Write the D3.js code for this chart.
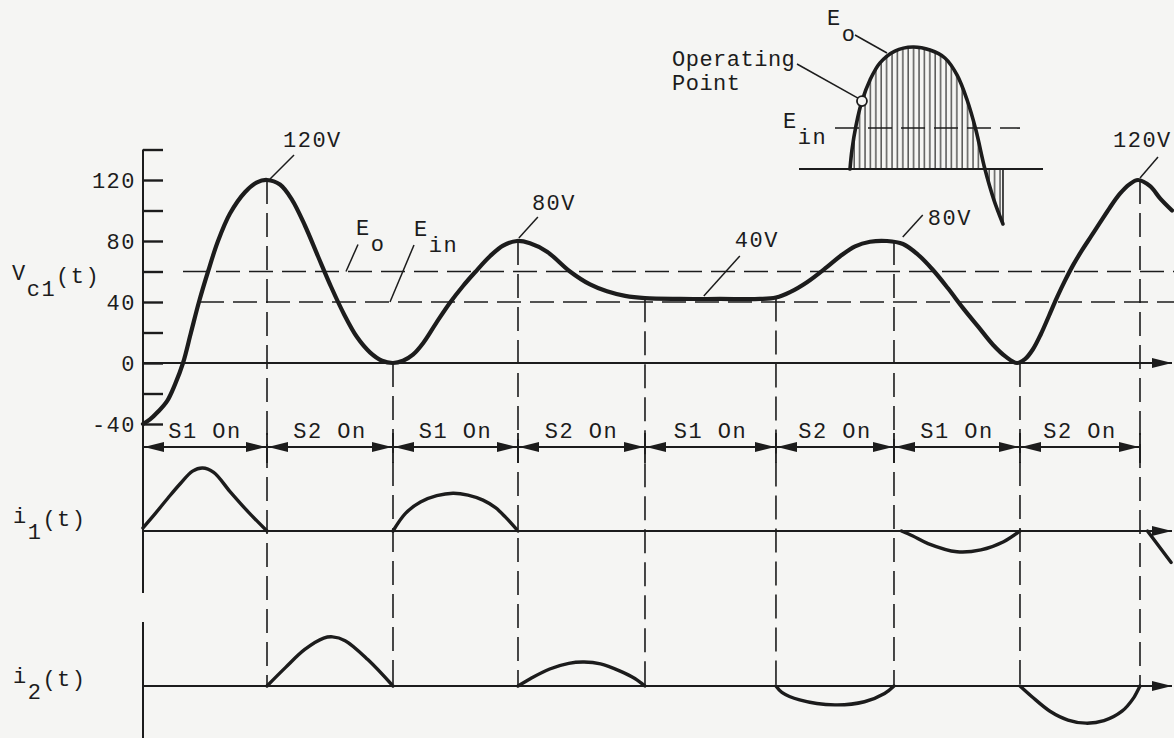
<!DOCTYPE html>
<html>
<head>
<meta charset="utf-8">
<title>Vc1, i1, i2 waveforms</title>
<style>
  body { margin: 0; background: #f5f5f3; }
  svg { display: block; }
  text { font-family: "Liberation Mono", monospace; font-size: 22px; letter-spacing: 1.5px; fill: #1c1c1c; }
</style>
</head>
<body>
<div class="plot_container"></div>
<script src="https://cdn.jsdelivr.net/npm/d3@7/dist/d3.min.js"></script>
<script>
var width = 1174;
var height = 738;
var ink = "#1c1c1c";

// switching intervals (time in interval units)
var boundaries = [0, 0.995, 2.006, 3.009, 4.028, 5.079, 6.026, 7.037, 8];
var switchLabels = ["S1 On", "S2 On", "S1 On", "S2 On", "S1 On", "S2 On", "S1 On", "S2 On"];
// Vc1 value where each dashed divider starts (dividers 1..8)
var dividerTop = [120, 0, 80, 42.5, 43, 80, 0, 120];

// Vc1(t), volts
var vcT = [0, 0.056, 0.12, 0.193, 0.257, 0.321, 0.385, 0.449, 0.522, 0.602, 0.698, 0.818, 0.915, 0.995,
           1.099, 1.196, 1.3, 1.404, 1.509, 1.613, 1.717, 1.821, 1.918, 2.006,
           2.086, 2.166, 2.247, 2.351, 2.463, 2.568, 2.664, 2.784, 2.889, 3.001,
           3.105, 3.242, 3.426, 3.587, 3.723, 3.868, 4.028, 4.309, 4.63, 4.951, 5.079,
           5.192, 5.328, 5.489, 5.594, 5.714, 5.834, 5.97,
           6.098, 6.219, 6.339, 6.459, 6.580, 6.700, 6.820, 6.925, 7.013,
           7.077, 7.141, 7.205, 7.270, 7.334, 7.398, 7.462, 7.535, 7.607, 7.679, 7.759, 7.839, 7.912, 7.984,
           8.081, 8.161, 8.257];
var vcV = [-40, -37, -32, -25, -14, 0, 20, 40, 60, 80, 98, 112, 118.5, 120,
           117, 107, 90, 70, 50, 32, 17, 7, 1.5, 0,
           1.5, 5.5, 13, 26, 39.5, 50.5, 59.5, 70, 77, 80,
           78.5, 73, 60, 51.5, 47, 44, 42.5, 42, 42, 42, 43,
           46.5, 53, 63, 70, 76.5, 79.5, 80,
           78, 71, 61, 49, 36, 24, 12, 4, 0,
           2.5, 9, 19, 31, 43, 54, 64, 74, 83, 92, 102, 111, 117, 120,
           116, 108, 100];

var yTicks = d3.range(-40, 141, 20);
var yLabels = [-40, 0, 40, 80, 120];
var refValues = [60, 40];          // Eo, Ein
var refNames = [["E", "o"], ["E", "in"]];

var peakText = ["120V", "80V", "40V", "80V", "120V"];
var peakT = [0.995, 3.0, 4.5, 6.0, 7.984];
var peakV = [120, 80, 42, 80, 120];

// i1(t), i2(t): interval index, position inside interval, relative current
var i1Seg = [0, 2, 6, 8];
var i1F = [[0, 0.1, 0.2, 0.3, 0.4, 0.48, 0.57, 0.7, 0.85, 1],
           [0, 0.1, 0.22, 0.35, 0.48, 0.6, 0.72, 0.82, 0.9, 1],
           [0.06, 0.15, 0.27, 0.5, 0.69, 0.87, 1],
           [0.06, 0.25]];
var i1V = [[0.05, 0.28, 0.52, 0.75, 0.95, 1.0, 0.93, 0.63, 0.3, 0],
           [0, 0.28, 0.46, 0.56, 0.6, 0.57, 0.49, 0.37, 0.22, 0],
           [0, -0.08, -0.2, -0.33, -0.3, -0.17, 0],
           [0, -0.5]];
var i2Seg = [1, 3, 5, 7];
var i2F = [[0, 0.15, 0.3, 0.45, 0.52, 0.62, 0.8, 1],
           [0, 0.1, 0.25, 0.4, 0.52, 0.65, 0.8, 0.92, 1],
           [0, 0.05, 0.2, 0.5, 0.75, 0.92, 1],
           [0, 0.1, 0.25, 0.4, 0.55, 0.7, 0.85, 0.95, 1]];
var i2V = [[0, 0.3, 0.58, 0.76, 0.78, 0.72, 0.42, 0],
           [0, 0.12, 0.27, 0.36, 0.38, 0.35, 0.24, 0.12, 0],
           [0, -0.1, -0.22, -0.3, -0.25, -0.12, 0],
           [0, -0.17, -0.4, -0.54, -0.59, -0.55, -0.4, -0.18, 0]];

// inset: operating point sketch
var insetX = [20.9, 21.7, 23.4, 25.8, 29.1, 33.2, 39.3, 46.7, 53.7, 59.8, 64.8, 68.9, 72.5, 76.2, 79.9, 83.6];
var insetV = [0, 0.156, 0.36, 0.557, 0.73, 0.87, 0.967, 1.0, 0.975, 0.91, 0.77, 0.566, 0.32, 0, -0.254, -0.45];
var insetEin = 0.336;
var insetOp = 3;

var svg = d3.select(".plot_container").append("svg")
        .attr("width", width)
        .attr("height", height);

var defs = svg.append("defs");
defs.append("marker")
    .attr("id", "arrow")
    .attr("viewBox", "0 -6 20 12")
    .attr("refX", 20).attr("refY", 0)
    .attr("markerWidth", 20).attr("markerHeight", 12)
    .attr("markerUnits", "userSpaceOnUse")
    .attr("orient", "auto-start-reverse")
    .append("path").attr("d", "M0,-5L20,0L0,5Z").attr("fill", ink);
var pat = defs.append("pattern")
    .attr("id", "hatch")
    .attr("patternUnits", "userSpaceOnUse")
    .attr("width", 5.4).attr("height", 10);
pat.append("line").attr("x1", 1).attr("x2", 1).attr("y1", 0).attr("y2", 10)
    .attr("stroke", ink).attr("stroke-width", 1.1);

var x = d3.scaleLinear().domain([0, 8]).range([143, 1140]);
var y = d3.scaleLinear().domain([-40, 140]).range([424, 149.5]);
var yi1 = d3.scaleLinear().domain([-1, 1]).range([594, 468]);
var yi2 = d3.scaleLinear().domain([-1, 1]).range([749, 623]);

var xEnd = 1172;
var dash = "24,9";

function hline(yy, x1, x2, w, d, arrow) {
    var l = svg.append("line")
        .attr("x1", x1).attr("x2", x2).attr("y1", yy).attr("y2", yy)
        .attr("stroke", ink).attr("stroke-width", w);
    if (d) l.attr("stroke-dasharray", d);
    if (arrow) l.attr("marker-end", "url(#arrow)");
    return l;
}
function vline(xx, y1, y2, w, d) {
    var l = svg.append("line")
        .attr("x1", xx).attr("x2", xx).attr("y1", y1).attr("y2", y2)
        .attr("stroke", ink).attr("stroke-width", w);
    if (d) l.attr("stroke-dasharray", d);
    return l;
}
function subLabel(xx, yy, main, sub, rest) {
    var t = svg.append("text").attr("x", xx).attr("y", yy);
    t.append("tspan").text(main);
    t.append("tspan").attr("dy", 16).text(sub);
    if (rest) t.append("tspan").attr("dy", -13).text(rest);
    return t;
}

// dashed dividers between switching intervals
boundaries.slice(1).forEach(function(b, k) {
    vline(x(b), y(dividerTop[k]), yi2(0), 1.6, dash);
});

// Eo / Ein reference lines
hline(y(refValues[0]), 183, width, 1.6, dash);
hline(y(refValues[1]), 200, width, 1.6, dash);

// y axis with ticks
vline(x(0), y(140), 593, 2);
vline(x(0), 622, height, 2);
var yAxis = d3.axisRight(y).tickValues(yTicks).tickSize(20).tickFormat("");
var gy = svg.append("g").attr("transform", "translate(" + x(0) + ",0)").call(yAxis);
gy.select(".domain").remove();
gy.selectAll(".tick line").attr("stroke", ink).attr("stroke-width", 2.4);
var yLab = d3.axisLeft(y).tickValues(yLabels).tickSize(0).tickPadding(7)
    .tickFormat(function(d) { return String(d); });
var gl = svg.append("g").attr("transform", "translate(" + x(0) + ",0)").call(yLab);
gl.select(".domain").remove();
gl.selectAll("text").attr("font-family", null).attr("font-size", null).attr("fill", ink)
    .attr("dy", "0.36em");

// horizontal axes with arrows
hline(y(0), x(0), xEnd, 2, null, true);
hline(yi1(0), x(0), xEnd, 2, null, true);
hline(yi2(0), x(0), xEnd, 2, null, true);

// Vc1 curve
var vcLine = d3.line()
    .x(function(d) { return x(d[0]); })
    .y(function(d) { return y(d[1]); })
    .curve(d3.curveCatmullRom.alpha(0.5));
svg.append("path")
    .datum(d3.zip(vcT, vcV))
    .attr("d", vcLine)
    .attr("fill", "none").attr("stroke", ink).attr("stroke-width", 4.2)
    .attr("stroke-linejoin", "round").attr("stroke-linecap", "round");

// switching interval arrows
var arrowY = 447;
boundaries.slice(0, -1).forEach(function(b, k) {
    var x1 = x(b), x2 = x(boundaries[k + 1]);
    svg.append("line")
        .attr("x1", x1 + 1).attr("x2", x2 - 1).attr("y1", arrowY).attr("y2", arrowY)
        .attr("stroke", ink).attr("stroke-width", 1.8)
        .attr("marker-start", "url(#arrow)").attr("marker-end", "url(#arrow)");
    svg.append("text")
        .attr("x", (x1 + x2) / 2).attr("y", arrowY - 9)
        .attr("text-anchor", "middle")
        .text(switchLabels[k]);
});
boundaries.slice(1).forEach(function(b) {
    vline(x(b), arrowY - 14, arrowY + 16, 1.8);
});

// current waveforms
function drawCurrents(segs, fs, vs, ys) {
    segs.forEach(function(s, k) {
        var b0 = boundaries[s];
        var w = (s + 1 < boundaries.length ? boundaries[s + 1] : b0 + 1) - b0;
        var pts = fs[k].map(function(f, j) { return [b0 + f * w, vs[k][j]]; });
        svg.append("path")
            .datum(pts)
            .attr("d", d3.line()
                .x(function(d) { return x(d[0]); })
                .y(function(d) { return ys(d[1]); })
                .curve(d3.curveCatmullRom.alpha(0.5)))
            .attr("fill", "none").attr("stroke", ink).attr("stroke-width", 3.4)
            .attr("stroke-linecap", "round");
    });
}
drawCurrents(i1Seg, i1F, i1V, yi1);
drawCurrents(i2Seg, i2F, i2V, yi2);

// peak annotations
var leadFrom = [[3, -1], [2, -3], [0, -3], [12, -4], [2, -2]];
var leadTo = [[27, -25], [21, -24], [36, -43], [32, -26], [20, -23]];
var textAt = [[16, -33], [15, -31], [31, -52], [37, -16], [-25, -33]];
peakText.forEach(function(s, k) {
    var px = x(peakT[k]), py = y(peakV[k]);
    svg.append("line")
        .attr("x1", px + leadFrom[k][0]).attr("y1", py + leadFrom[k][1])
        .attr("x2", px + leadTo[k][0]).attr("y2", py + leadTo[k][1])
        .attr("stroke", ink).attr("stroke-width", 1.5);
    svg.append("text").attr("x", px + textAt[k][0]).attr("y", py + textAt[k][1]).text(s);
});

// Eo, Ein labels
var refLeadX = [346, 390];
var refTextX = [356, 414];
refValues.forEach(function(v, k) {
    var yy = y(v);
    svg.append("line")
        .attr("x1", refLeadX[k]).attr("y1", yy)
        .attr("x2", refLeadX[k] + 12 + k * 12).attr("y2", yy - 27 - k * 30)
        .attr("stroke", ink).attr("stroke-width", 1.5);
    subLabel(refTextX[k], yy - 37 - k * 29, refNames[k][0], refNames[k][1]);
});

// axis names
subLabel(12, 280, "V", "c1", "(t)");
subLabel(13, 523, "i", "1", "(t)");
subLabel(13, 683, "i", "2", "(t)");

// inset
var ix = d3.scaleLinear().domain([0, 100]).range([799, 1043]);
var iy = d3.scaleLinear().domain([-0.45, 1]).range([224, 47]);
var insetPts = d3.zip(insetX, insetV);
svg.append("path")
    .datum(insetPts)
    .attr("d", d3.area()
        .x(function(d) { return ix(d[0]); })
        .y0(iy(0))
        .y1(function(d) { return iy(d[1]); })
        .curve(d3.curveCatmullRom.alpha(0.5)))
    .attr("fill", "url(#hatch)");
svg.append("line")
    .attr("x1", ix(0)).attr("x2", ix(100)).attr("y1", iy(0)).attr("y2", iy(0))
    .attr("stroke", ink).attr("stroke-width", 2);
svg.append("line")
    .attr("x1", 835).attr("x2", 1020).attr("y1", iy(insetEin)).attr("y2", iy(insetEin))
    .attr("stroke", ink).attr("stroke-width", 1.6).attr("stroke-dasharray", dash);
svg.append("path")
    .datum(insetPts)
    .attr("d", d3.line()
        .x(function(d) { return ix(d[0]); })
        .y(function(d) { return iy(d[1]); })
        .curve(d3.curveCatmullRom.alpha(0.5)))
    .attr("fill", "none").attr("stroke", ink).attr("stroke-width", 3.6)
    .attr("stroke-linecap", "round");
var last = insetPts[insetPts.length - 1];
svg.append("line")
    .attr("x1", ix(last[0])).attr("x2", ix(last[0])).attr("y1", iy(last[1])).attr("y2", iy(0))
    .attr("stroke", ink).attr("stroke-width", 1.6);
var op = insetPts[insetOp];
svg.append("line")
    .attr("x1", 797).attr("y1", 64).attr("x2", ix(op[0]) - 4).attr("y2", iy(op[1]) - 3)
    .attr("stroke", ink).attr("stroke-width", 1.5);
svg.append("circle")
    .attr("cx", ix(op[0])).attr("cy", iy(op[1])).attr("r", 5)
    .attr("fill", "#f5f5f3").attr("stroke", ink).attr("stroke-width", 1.8);
svg.append("line")
    .attr("x1", 855).attr("y1", 35).attr("x2", 887).attr("y2", 53)
    .attr("stroke", ink).attr("stroke-width", 1.5);
subLabel(827, 25, "E", "o");
subLabel(783, 128, "E", "in");
svg.append("text").attr("x", 672).attr("y", 66).style("letter-spacing", "0.5px").text("Operating");
svg.append("text").attr("x", 672).attr("y", 90).style("letter-spacing", "0.5px").text("Point");
</script>
</body>
</html>
